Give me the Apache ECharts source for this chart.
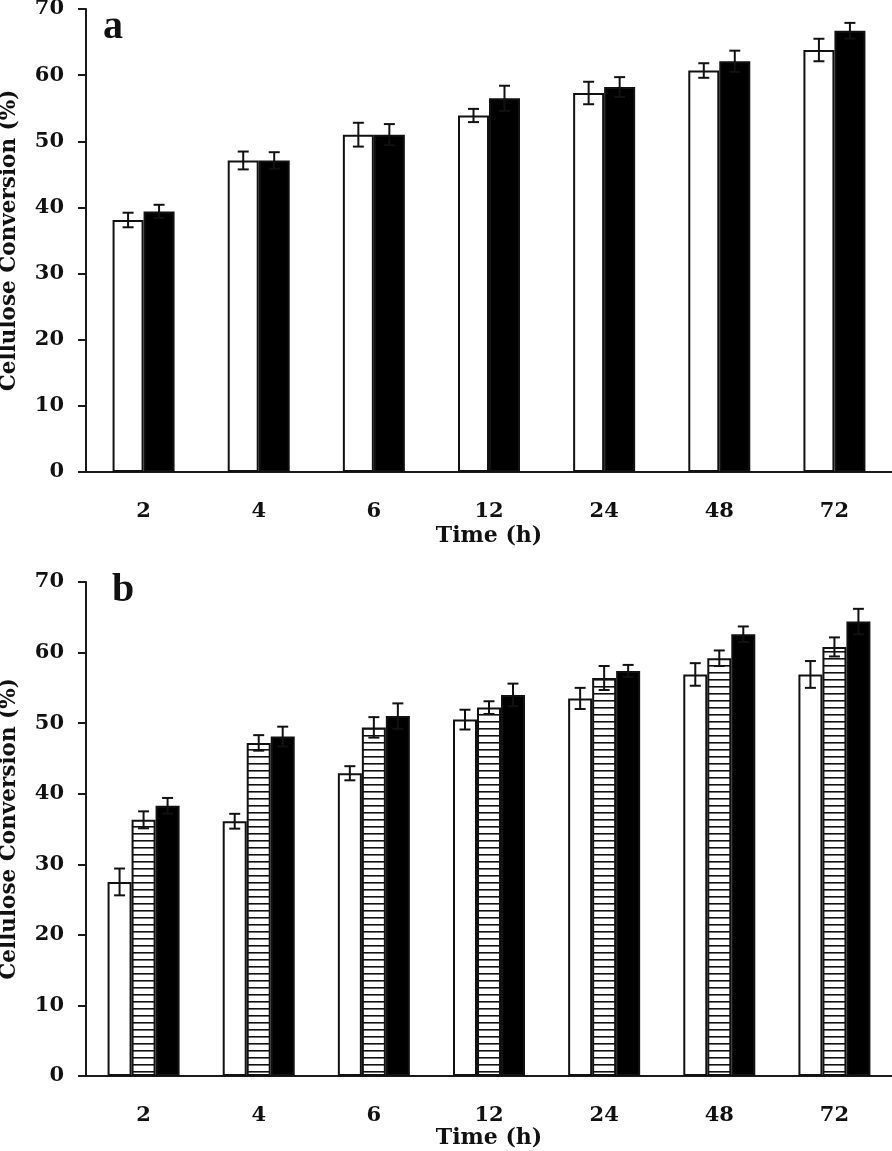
<!DOCTYPE html>
<html>
<head>
<meta charset="utf-8">
<script src="https://cdn.jsdelivr.net/npm/echarts@6/dist/echarts.min.js"></script>
<style>
html,body{margin:0;padding:0;background:#fff;}
#chart{width:892px;height:1151px;}
</style>
</head>
<body>
<div id="chart"></div>
<script>
// ---- data ----
const categories = ['2', '4', '6', '12', '24', '48', '72'];
const yTicks = [0, 10, 20, 30, 40, 50, 60, 70];

// panel a
const aWhite    = [38.1, 47.1, 51.0, 53.9, 57.3, 60.7, 63.8];
const aWhiteErr = [1.1, 1.35, 1.8, 1.0, 1.7, 1.1, 1.7];
const aBlack    = [39.4, 47.1, 51.0, 56.5, 58.2, 62.1, 66.7];
const aBlackErr = [1.0, 1.25, 1.6, 1.9, 1.5, 1.6, 1.2];

// panel b
const bWhite    = [27.5, 36.1, 42.9, 50.5, 53.5, 56.9, 56.9];
const bWhiteErr = [1.9, 1.05, 1.0, 1.4, 1.5, 1.6, 1.9];
const bHatch    = [36.3, 47.2, 49.4, 52.2, 56.4, 59.2, 60.8];
const bHatchErr = [1.2, 1.1, 1.45, 0.9, 1.7, 1.1, 1.35];
const bBlack    = [38.3, 48.1, 51.0, 54.0, 57.4, 62.6, 64.4];
const bBlackErr = [1.1, 1.4, 1.8, 1.6, 0.85, 1.1, 1.8];

// ---- styles ----
const AX = '#1a1a1a';
const LABEL_FONT = 'DejaVu Serif';
const hatchCanvas = document.createElement('canvas');
hatchCanvas.width = 8; hatchCanvas.height = 7;
(function(){
  const c = hatchCanvas.getContext('2d');
  c.fillStyle = '#fff'; c.fillRect(0, 0, 8, 7);
  c.fillStyle = '#111'; c.fillRect(0, 0, 8, 1.6);
})();
const hatchFill = { image: hatchCanvas, repeat: 'repeat' };

function xAxisFor(gi, margin, nameGap) {
  return {
    type: 'category', gridIndex: gi, data: categories,
    axisLine: { lineStyle: { color: AX, width: 2 } },
    axisTick: { show: false },
    axisLabel: { margin: margin, color: '#111', fontFamily: LABEL_FONT, fontWeight: 'bold', fontSize: 21 },
    name: 'Time (h)', nameLocation: 'middle', nameGap: nameGap,
    nameTextStyle: { color: '#111', fontFamily: LABEL_FONT, fontWeight: 'bold', fontSize: 22 }
  };
}
function yAxisFor(gi) {
  return {
    type: 'value', gridIndex: gi, min: 0, max: 70, interval: 10,
    axisLine: { show: true, lineStyle: { color: AX, width: 2 } },
    axisTick: { show: true, length: 8, lineStyle: { color: AX, width: 2 } },
    splitLine: { show: false },
    axisLabel: { margin: 22, color: '#111', fontFamily: LABEL_FONT, fontWeight: 'bold', fontSize: 21,
      formatter: v => yTicks.indexOf(v) >= 0 ? String(v) : '' },
    name: 'Cellulose Conversion (%)', nameLocation: 'middle', nameGap: 66, nameRotate: 90,
    nameTextStyle: { color: '#111', fontFamily: LABEL_FONT, fontWeight: 'bold', fontSize: 21.5 }
  };
}
function barSeries(gi, vals, fill, bw) {
  return {
    type: 'bar', xAxisIndex: gi, yAxisIndex: gi, data: vals,
    barWidth: bw, barGap: '0%',
    itemStyle: { color: fill, borderColor: '#111', borderWidth: 2 },
    emphasis: { disabled: true }, silent: true
  };
}
function errSeries(gi, vals, errs, offset) {
  return {
    type: 'custom', xAxisIndex: gi, yAxisIndex: gi, silent: true, z: 5,
    data: vals.map((v, i) => [i, v, errs[i]]),
    encode: { x: 0, y: 1 },
    renderItem: function (params, api) {
      const i = api.value(0), v = api.value(1), e = api.value(2);
      const c = api.coord([i, v]);
      const t = api.coord([i, v + e])[1];
      const b = api.coord([i, v - e])[1];
      const x = c[0] + offset, hw = 5.5;
      const st = { stroke: '#111', lineWidth: 2 };
      return { type: 'group', children: [
        { type: 'line', shape: { x1: x, y1: t, x2: x, y2: b }, style: st },
        { type: 'line', shape: { x1: x - hw, y1: t, x2: x + hw, y2: t }, style: st },
        { type: 'line', shape: { x1: x - hw, y1: b, x2: x + hw, y2: b }, style: st }
      ] };
    }
  };
}

const BW_A = 31, BW_B = 24;
const option = {
  animation: false,
  backgroundColor: '#fff',
  grid: [
    { left: 86, right: 0, top: 9, height: 463, outerBoundsMode: 'none', containLabel: false },
    { left: 86, right: 0, top: 582, height: 494, outerBoundsMode: 'none', containLabel: false }
  ],
  xAxis: [xAxisFor(0, 29, 53), xAxisFor(1, 29, 51)],
  yAxis: [yAxisFor(0), yAxisFor(1)],
  graphic: [
    { type: 'text', left: 103, top: 8, style: { text: 'a', font: 'bold 40px "Liberation Serif"', fill: '#111' } },
    { type: 'text', left: 112, top: 571, style: { text: 'b', font: 'bold 40px "Liberation Serif"', fill: '#111' } }
  ],
  series: [
    barSeries(0, aWhite, '#fff', BW_A),
    barSeries(0, aBlack, '#000', BW_A),
    errSeries(0, aWhite, aWhiteErr, -BW_A / 2),
    errSeries(0, aBlack, aBlackErr, BW_A / 2),
    barSeries(1, bWhite, '#fff', BW_B),
    barSeries(1, bHatch, hatchFill, BW_B),
    barSeries(1, bBlack, '#000', BW_B),
    errSeries(1, bWhite, bWhiteErr, -BW_B),
    errSeries(1, bHatch, bHatchErr, 0),
    errSeries(1, bBlack, bBlackErr, BW_B)
  ]
};
const chart = echarts.init(document.getElementById('chart'), null, { renderer: 'canvas' });
chart.setOption(option);
</script>
</body>
</html>
